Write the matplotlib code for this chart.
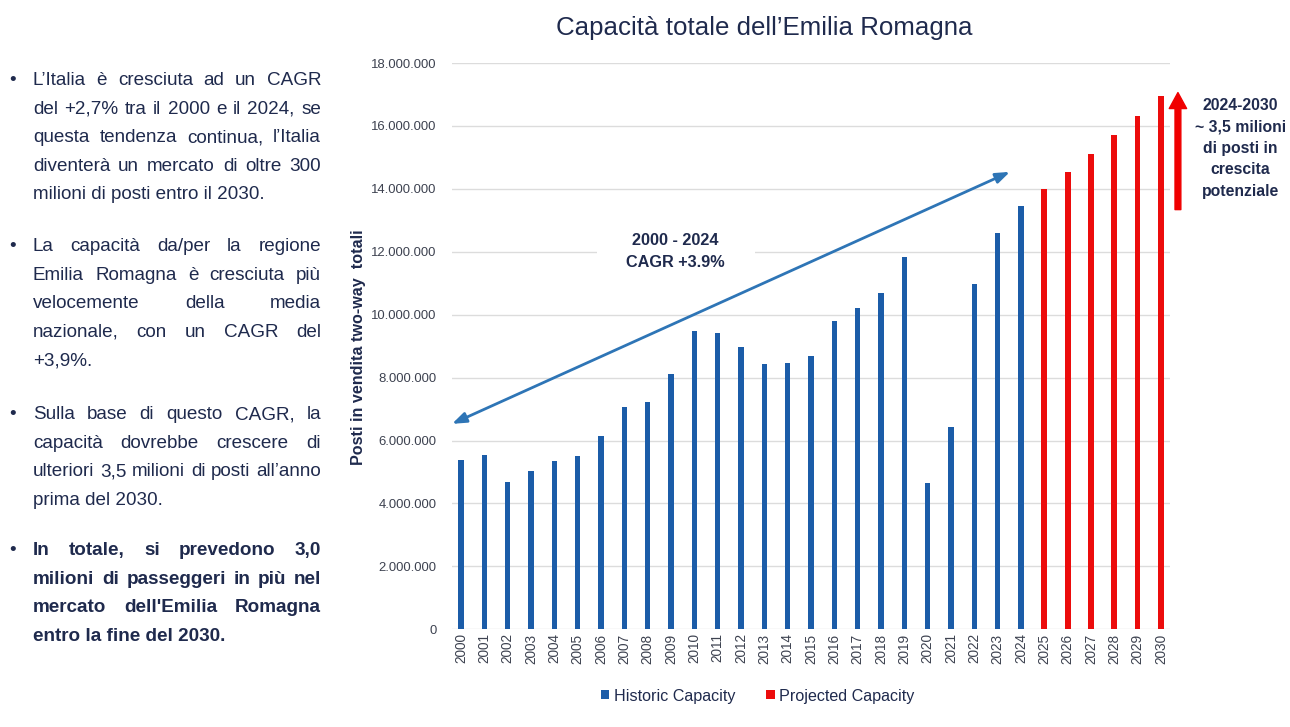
import numpy as np
import matplotlib
matplotlib.use("Agg")
import matplotlib.pyplot as plt
from matplotlib import font_manager
from matplotlib.patches import Patch, Rectangle
from matplotlib.ticker import FuncFormatter

# ---------------------------------------------------------------- data
years = [str(y) for y in range(2000, 2031)]
historic = [5_380_000, 5_540_000, 4_690_000, 5_030_000, 5_360_000, 5_520_000,
            6_150_000, 7_050_000, 7_230_000, 8_100_000, 9_470_000, 9_410_000,
            8_970_000, 8_430_000, 8_470_000, 8_680_000, 9_810_000, 10_200_000,
            10_700_000, 11_840_000, 4_660_000, 6_430_000, 10_980_000,
            12_600_000, 13_470_000]
projected = [14_000_000, 14_550_000, 15_120_000, 15_700_000, 16_330_000,
             16_950_000]
y_ticks = [0, 2_000_000, 4_000_000, 6_000_000, 8_000_000, 10_000_000,
           12_000_000, 14_000_000, 16_000_000, 18_000_000]

title = "Capacità totale dell’Emilia Romagna"
y_label = "Posti in vendita two-way  totali"
legend_labels = ["Historic Capacity", "Projected Capacity"]
cagr_lines = ["2000 - 2024", "CAGR +3.9%"]
growth_lines = ["2024-2030", "~ 3,5 milioni", "di posti in", "crescita",
                "potenziale"]

# bullet paragraphs, one entry per printed line
paragraphs = [
    ["L’Italia è cresciuta ad un CAGR",
     "del +2,7% tra il 2000 e il 2024, se",
     "questa tendenza continua, l’Italia",
     "diventerà un mercato di oltre 300",
     "milioni di posti entro il 2030."],
    ["La capacità da/per la regione",
     "Emilia Romagna è cresciuta più",
     "velocemente della media",
     "nazionale, con un CAGR del",
     "+3,9%."],
    ["Sulla base di questo CAGR, la",
     "capacità dovrebbe crescere di",
     "ulteriori 3,5 milioni di posti all’anno",
     "prima del 2030."],
    ["In totale, si prevedono 3,0",
     "milioni di passeggeri in più nel",
     "mercato dell'Emilia Romagna",
     "entro la fine del 2030."],
]
paragraph_bold = [False, False, False, True]

# ---------------------------------------------------------------- style
W, H = 1290, 727
NAVY = "#1f2a4d"
TICK = "#3d4250"
BLUE = "#1b5ca8"
RED = "#ec0c0c"
ARROW_BLUE = "#2e75b6"


def has_font(name):
    try:
        font_manager.findfont(font_manager.FontProperties(family=name),
                              fallback_to_default=False)
        return True
    except Exception:
        return False


REGULAR = "Liberation Sans"
if has_font("Liberation Sans Narrow"):
    NARROW, NSCALE = "Liberation Sans Narrow", 1.0
else:
    NARROW, NSCALE = "Liberation Sans", 0.82

fig = plt.figure(figsize=(W / 100, H / 100), dpi=100)
fig.patch.set_facecolor("white")

# ---------------------------------------------------------------- chart
ax_left, ax_right, ax_bottom, ax_top = 452, 1170, 629.3, 63
ax = fig.add_axes([ax_left / W, 1 - ax_bottom / H,
                   (ax_right - ax_left) / W, (ax_bottom - ax_top) / H])

x = np.arange(len(years))
n_hist = len(historic)
ax.bar(x[:n_hist], historic, width=0.23, color=BLUE, zorder=3,
       label=legend_labels[0])
ax.bar(x[n_hist:], projected, width=0.25, color=RED, zorder=3,
       label=legend_labels[1])

ax.set_xlim(-0.39, len(years) - 1 + 0.39)
ax.set_ylim(0, y_ticks[-1])
ax.set_yticks(y_ticks)
ax.yaxis.set_major_formatter(
    FuncFormatter(lambda v, p: f"{int(round(v)):,}".replace(",", ".")))
ax.grid(axis="y", color="#dcdcdc", linewidth=1.0)
ax.set_axisbelow(True)
for s in ax.spines.values():
    s.set_visible(False)
ax.tick_params(axis="both", length=0)
ax.tick_params(axis="y", pad=11, labelsize=11.5 * NSCALE, labelcolor=TICK)
for lbl in ax.get_yticklabels():
    lbl.set_fontfamily(NARROW)
ax.set_xticks(x)
ax.set_xticklabels(years, rotation=90, fontsize=9.8, family=REGULAR,
                   color=TICK)
ax.tick_params(axis="x", pad=3)

# white panel behind the CAGR note
ax.add_patch(Rectangle((5.83, 11.2e6), 6.77, 1.4e6, facecolor="white",
                       edgecolor="none", zorder=1))
ax.text(9.17, 12.36e6, cagr_lines[0], ha="center", va="center",
        fontsize=11.7, weight="bold", family=REGULAR, color=NAVY, zorder=4)
ax.text(9.17, 11.66e6, cagr_lines[1], ha="center", va="center",
        fontsize=11.7, weight="bold", family=REGULAR, color=NAVY, zorder=4)

# double-headed trend arrow
ax.annotate("", xy=(-0.39, 6.53e6), xytext=(23.53, 14.54e6),
            arrowprops=dict(arrowstyle="<|-|>,head_length=0.6,head_width=0.22",
                            color=ARROW_BLUE, lw=2, mutation_scale=14,
                            shrinkA=0, shrinkB=0),
            annotation_clip=False, zorder=5)

# red growth arrow
ax.annotate("", xy=(30.73, 17.06e6), xytext=(30.73, 13.34e6),
            arrowprops=dict(arrowstyle="simple,head_length=1.15,head_width=1.25,tail_width=0.42",
                            color="#f00000", mutation_scale=10,
                            shrinkA=0, shrinkB=0),
            annotation_clip=False, zorder=5)

for i, line in enumerate(growth_lines):
    fig.text(1240.5 / W, 1 - (110 + 21.5 * i) / H, line, ha="center",
             va="baseline", fontsize=13.8 * NSCALE, weight="bold",
             family=NARROW, color=NAVY)

# title and axis label
fig.text(764.5 / W, 1 - 35 / H, title, ha="center", va="baseline",
         fontsize=18.6, family=REGULAR, color=NAVY)
fig.text(358 / W, 1 - 347 / H, y_label, rotation=90, ha="center",
         va="center", fontsize=11.6, weight="bold", family=REGULAR,
         color=NAVY)

# legend
handles = [Patch(facecolor=BLUE, label=legend_labels[0]),
           Patch(facecolor=RED, label=legend_labels[1])]
leg = fig.legend(handles=handles, loc="center",
                 bbox_to_anchor=(758 / W, 1 - 696 / H), ncol=2,
                 frameon=False, handlelength=0.5, handleheight=0.5,
                 handletextpad=0.3, columnspacing=1.9,
                 prop=dict(family=NARROW, size=14.2 * NSCALE))
for t in leg.get_texts():
    t.set_color(NAVY)

# ---------------------------------------------------------------- bullets
renderer = fig.canvas.get_renderer()
TEXT_X0, TEXT_X1, BULLET_X = 33, 321, 9
LEFT_FS = 16.6 * NSCALE
LINE_STEP = 28.6
first_baselines = [85, 251, 419, 555]


def draw_line(text, y_px, justify, weight):
    yb = 1 - y_px / H
    kw = dict(ha="left", va="baseline", fontsize=LEFT_FS, family=NARROW,
              weight=weight, color=NAVY)
    if not justify:
        fig.text(TEXT_X0 / W, yb, text, **kw)
        return
    words = text.split()
    objs = [fig.text(0, yb, w, **kw) for w in words]
    widths = [o.get_window_extent(renderer).width for o in objs]
    gap = (TEXT_X1 - TEXT_X0 - sum(widths)) / max(len(words) - 1, 1)
    xp = TEXT_X0
    for o, w in zip(objs, widths):
        o.set_x(xp / W)
        xp += w + gap


for para, y0, bold in zip(paragraphs, first_baselines, paragraph_bold):
    weight = "bold" if bold else "normal"
    fig.text(BULLET_X / W, 1 - y0 / H, "•", ha="left", va="baseline",
             fontsize=LEFT_FS, family=NARROW, color=NAVY)
    for j, line in enumerate(para):
        draw_line(line, y0 + LINE_STEP * j, j < len(para) - 1, weight)

fig.savefig("out.png", dpi=100, facecolor="white")
